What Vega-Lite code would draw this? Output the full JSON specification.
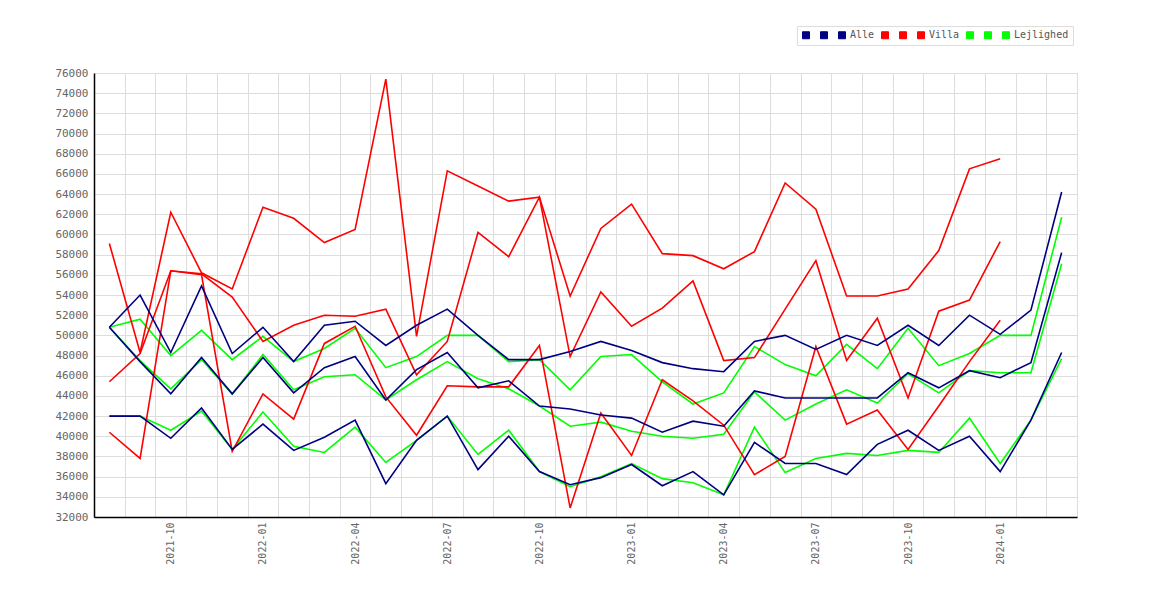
{
  "$schema": "https://vega.github.io/schema/vega-lite/v6.json",
  "width": 983,
  "height": 444,
  "autosize": {"type": "none"},
  "padding": {"left": 94, "top": 73, "right": 93, "bottom": 83},
  "background": "white",
  "config": {
    "view": {"stroke": "#dddddd"},
    "axis": {"labelFont": "DejaVu Sans Mono", "labelFontSize": 10, "labelColor": "#666666"}
  },
  "data": {
    "values": [
      {"m":"2021-08","s":"Lejlighed 1","v":50800},{"m":"2021-09","s":"Lejlighed 1","v":51600},{"m":"2021-10","s":"Lejlighed 1","v":48000},{"m":"2021-11","s":"Lejlighed 1","v":50500},{"m":"2021-12","s":"Lejlighed 1","v":47600},{"m":"2022-01","s":"Lejlighed 1","v":49900},{"m":"2022-02","s":"Lejlighed 1","v":47400},{"m":"2022-03","s":"Lejlighed 1","v":48700},{"m":"2022-04","s":"Lejlighed 1","v":50700},{"m":"2022-05","s":"Lejlighed 1","v":46800},{"m":"2022-06","s":"Lejlighed 1","v":47900},{"m":"2022-07","s":"Lejlighed 1","v":50000},{"m":"2022-08","s":"Lejlighed 1","v":50000},{"m":"2022-09","s":"Lejlighed 1","v":47400},{"m":"2022-10","s":"Lejlighed 1","v":47600},{"m":"2022-11","s":"Lejlighed 1","v":44600},{"m":"2022-12","s":"Lejlighed 1","v":47900},{"m":"2023-01","s":"Lejlighed 1","v":48100},{"m":"2023-02","s":"Lejlighed 1","v":45400},{"m":"2023-03","s":"Lejlighed 1","v":43200},{"m":"2023-04","s":"Lejlighed 1","v":44300},{"m":"2023-05","s":"Lejlighed 1","v":48900},{"m":"2023-06","s":"Lejlighed 1","v":47100},{"m":"2023-07","s":"Lejlighed 1","v":46000},{"m":"2023-08","s":"Lejlighed 1","v":49100},{"m":"2023-09","s":"Lejlighed 1","v":46700},{"m":"2023-10","s":"Lejlighed 1","v":50700},{"m":"2023-11","s":"Lejlighed 1","v":47000},{"m":"2023-12","s":"Lejlighed 1","v":48200},{"m":"2024-01","s":"Lejlighed 1","v":50000},{"m":"2024-02","s":"Lejlighed 1","v":50000},{"m":"2024-03","s":"Lejlighed 1","v":61700},
      {"m":"2021-08","s":"Lejlighed 2","v":50800},{"m":"2021-09","s":"Lejlighed 2","v":47500},{"m":"2021-10","s":"Lejlighed 2","v":44700},{"m":"2021-11","s":"Lejlighed 2","v":47600},{"m":"2021-12","s":"Lejlighed 2","v":44200},{"m":"2022-01","s":"Lejlighed 2","v":48100},{"m":"2022-02","s":"Lejlighed 2","v":44600},{"m":"2022-03","s":"Lejlighed 2","v":45900},{"m":"2022-04","s":"Lejlighed 2","v":46100},{"m":"2022-05","s":"Lejlighed 2","v":43600},{"m":"2022-06","s":"Lejlighed 2","v":45600},{"m":"2022-07","s":"Lejlighed 2","v":47400},{"m":"2022-08","s":"Lejlighed 2","v":45700},{"m":"2022-09","s":"Lejlighed 2","v":44700},{"m":"2022-10","s":"Lejlighed 2","v":43000},{"m":"2022-11","s":"Lejlighed 2","v":41000},{"m":"2022-12","s":"Lejlighed 2","v":41400},{"m":"2023-01","s":"Lejlighed 2","v":40500},{"m":"2023-02","s":"Lejlighed 2","v":40000},{"m":"2023-03","s":"Lejlighed 2","v":39800},{"m":"2023-04","s":"Lejlighed 2","v":40200},{"m":"2023-05","s":"Lejlighed 2","v":44400},{"m":"2023-06","s":"Lejlighed 2","v":41600},{"m":"2023-07","s":"Lejlighed 2","v":43200},{"m":"2023-08","s":"Lejlighed 2","v":44600},{"m":"2023-09","s":"Lejlighed 2","v":43300},{"m":"2023-10","s":"Lejlighed 2","v":46200},{"m":"2023-11","s":"Lejlighed 2","v":44300},{"m":"2023-12","s":"Lejlighed 2","v":46500},{"m":"2024-01","s":"Lejlighed 2","v":46300},{"m":"2024-02","s":"Lejlighed 2","v":46300},{"m":"2024-03","s":"Lejlighed 2","v":57100},
      {"m":"2021-08","s":"Lejlighed","v":42000},{"m":"2021-09","s":"Lejlighed","v":42000},{"m":"2021-10","s":"Lejlighed","v":40600},{"m":"2021-11","s":"Lejlighed","v":42500},{"m":"2021-12","s":"Lejlighed","v":38700},{"m":"2022-01","s":"Lejlighed","v":42400},{"m":"2022-02","s":"Lejlighed","v":39000},{"m":"2022-03","s":"Lejlighed","v":38400},{"m":"2022-04","s":"Lejlighed","v":40900},{"m":"2022-05","s":"Lejlighed","v":37400},{"m":"2022-06","s":"Lejlighed","v":39600},{"m":"2022-07","s":"Lejlighed","v":42000},{"m":"2022-08","s":"Lejlighed","v":38200},{"m":"2022-09","s":"Lejlighed","v":40600},{"m":"2022-10","s":"Lejlighed","v":36500},{"m":"2022-11","s":"Lejlighed","v":35000},{"m":"2022-12","s":"Lejlighed","v":36000},{"m":"2023-01","s":"Lejlighed","v":37300},{"m":"2023-02","s":"Lejlighed","v":35800},{"m":"2023-03","s":"Lejlighed","v":35400},{"m":"2023-04","s":"Lejlighed","v":34200},{"m":"2023-05","s":"Lejlighed","v":40900},{"m":"2023-06","s":"Lejlighed","v":36400},{"m":"2023-07","s":"Lejlighed","v":37800},{"m":"2023-08","s":"Lejlighed","v":38300},{"m":"2023-09","s":"Lejlighed","v":38100},{"m":"2023-10","s":"Lejlighed","v":38600},{"m":"2023-11","s":"Lejlighed","v":38400},{"m":"2023-12","s":"Lejlighed","v":41800},{"m":"2024-01","s":"Lejlighed","v":37300},{"m":"2024-02","s":"Lejlighed","v":41600},{"m":"2024-03","s":"Lejlighed","v":47700},
      {"m":"2021-08","s":"Villa 1","v":59100},{"m":"2021-09","s":"Villa 1","v":48300},{"m":"2021-10","s":"Villa 1","v":62200},{"m":"2021-11","s":"Villa 1","v":56200},{"m":"2021-12","s":"Villa 1","v":54600},{"m":"2022-01","s":"Villa 1","v":62700},{"m":"2022-02","s":"Villa 1","v":61600},{"m":"2022-03","s":"Villa 1","v":59200},{"m":"2022-04","s":"Villa 1","v":60500},{"m":"2022-05","s":"Villa 1","v":75400},{"m":"2022-06","s":"Villa 1","v":49900},{"m":"2022-07","s":"Villa 1","v":66300},{"m":"2022-08","s":"Villa 1","v":64800},{"m":"2022-09","s":"Villa 1","v":63300},{"m":"2022-10","s":"Villa 1","v":63700},{"m":"2022-11","s":"Villa 1","v":53900},{"m":"2022-12","s":"Villa 1","v":60600},{"m":"2023-01","s":"Villa 1","v":63000},{"m":"2023-02","s":"Villa 1","v":58100},{"m":"2023-03","s":"Villa 1","v":57900},{"m":"2023-04","s":"Villa 1","v":56600},{"m":"2023-05","s":"Villa 1","v":58300},{"m":"2023-06","s":"Villa 1","v":65100},{"m":"2023-07","s":"Villa 1","v":62500},{"m":"2023-08","s":"Villa 1","v":53900},{"m":"2023-09","s":"Villa 1","v":53900},{"m":"2023-10","s":"Villa 1","v":54600},{"m":"2023-11","s":"Villa 1","v":58400},{"m":"2023-12","s":"Villa 1","v":66500},{"m":"2024-01","s":"Villa 1","v":67500},
      {"m":"2021-08","s":"Villa 2","v":45400},{"m":"2021-09","s":"Villa 2","v":48200},{"m":"2021-10","s":"Villa 2","v":56400},{"m":"2021-11","s":"Villa 2","v":56100},{"m":"2021-12","s":"Villa 2","v":53800},{"m":"2022-01","s":"Villa 2","v":49400},{"m":"2022-02","s":"Villa 2","v":51000},{"m":"2022-03","s":"Villa 2","v":52000},{"m":"2022-04","s":"Villa 2","v":51900},{"m":"2022-05","s":"Villa 2","v":52600},{"m":"2022-06","s":"Villa 2","v":46100},{"m":"2022-07","s":"Villa 2","v":49400},{"m":"2022-08","s":"Villa 2","v":60200},{"m":"2022-09","s":"Villa 2","v":57800},{"m":"2022-10","s":"Villa 2","v":63700},{"m":"2022-11","s":"Villa 2","v":47900},{"m":"2022-12","s":"Villa 2","v":54300},{"m":"2023-01","s":"Villa 2","v":50900},{"m":"2023-02","s":"Villa 2","v":52700},{"m":"2023-03","s":"Villa 2","v":55400},{"m":"2023-04","s":"Villa 2","v":47500},{"m":"2023-05","s":"Villa 2","v":47800},{"m":"2023-06","s":"Villa 2","v":52600},{"m":"2023-07","s":"Villa 2","v":57400},{"m":"2023-08","s":"Villa 2","v":47500},{"m":"2023-09","s":"Villa 2","v":51700},{"m":"2023-10","s":"Villa 2","v":43800},{"m":"2023-11","s":"Villa 2","v":52400},{"m":"2023-12","s":"Villa 2","v":53500},{"m":"2024-01","s":"Villa 2","v":59300},
      {"m":"2021-08","s":"Villa","v":40400},{"m":"2021-09","s":"Villa","v":37800},{"m":"2021-10","s":"Villa","v":56400},{"m":"2021-11","s":"Villa","v":56000},{"m":"2021-12","s":"Villa","v":38500},{"m":"2022-01","s":"Villa","v":44200},{"m":"2022-02","s":"Villa","v":41700},{"m":"2022-03","s":"Villa","v":49200},{"m":"2022-04","s":"Villa","v":50900},{"m":"2022-05","s":"Villa","v":43900},{"m":"2022-06","s":"Villa","v":40100},{"m":"2022-07","s":"Villa","v":45000},{"m":"2022-08","s":"Villa","v":44900},{"m":"2022-09","s":"Villa","v":44900},{"m":"2022-10","s":"Villa","v":49000},{"m":"2022-11","s":"Villa","v":32900},{"m":"2022-12","s":"Villa","v":42300},{"m":"2023-01","s":"Villa","v":38100},{"m":"2023-02","s":"Villa","v":45600},{"m":"2023-03","s":"Villa","v":43500},{"m":"2023-04","s":"Villa","v":41100},{"m":"2023-05","s":"Villa","v":36200},{"m":"2023-06","s":"Villa","v":38000},{"m":"2023-07","s":"Villa","v":48900},{"m":"2023-08","s":"Villa","v":41200},{"m":"2023-09","s":"Villa","v":42600},{"m":"2023-10","s":"Villa","v":38700},{"m":"2023-11","s":"Villa","v":43000},{"m":"2023-12","s":"Villa","v":47400},{"m":"2024-01","s":"Villa","v":51500},
      {"m":"2021-08","s":"Alle 1","v":50800},{"m":"2021-09","s":"Alle 1","v":54000},{"m":"2021-10","s":"Alle 1","v":48300},{"m":"2021-11","s":"Alle 1","v":54900},{"m":"2021-12","s":"Alle 1","v":48200},{"m":"2022-01","s":"Alle 1","v":50800},{"m":"2022-02","s":"Alle 1","v":47400},{"m":"2022-03","s":"Alle 1","v":51000},{"m":"2022-04","s":"Alle 1","v":51400},{"m":"2022-05","s":"Alle 1","v":49000},{"m":"2022-06","s":"Alle 1","v":51000},{"m":"2022-07","s":"Alle 1","v":52600},{"m":"2022-08","s":"Alle 1","v":50000},{"m":"2022-09","s":"Alle 1","v":47600},{"m":"2022-10","s":"Alle 1","v":47600},{"m":"2022-11","s":"Alle 1","v":48400},{"m":"2022-12","s":"Alle 1","v":49400},{"m":"2023-01","s":"Alle 1","v":48500},{"m":"2023-02","s":"Alle 1","v":47300},{"m":"2023-03","s":"Alle 1","v":46700},{"m":"2023-04","s":"Alle 1","v":46400},{"m":"2023-05","s":"Alle 1","v":49400},{"m":"2023-06","s":"Alle 1","v":50000},{"m":"2023-07","s":"Alle 1","v":48600},{"m":"2023-08","s":"Alle 1","v":50000},{"m":"2023-09","s":"Alle 1","v":49000},{"m":"2023-10","s":"Alle 1","v":51000},{"m":"2023-11","s":"Alle 1","v":49000},{"m":"2023-12","s":"Alle 1","v":52000},{"m":"2024-01","s":"Alle 1","v":50100},{"m":"2024-02","s":"Alle 1","v":52500},{"m":"2024-03","s":"Alle 1","v":64200},
      {"m":"2021-08","s":"Alle 2","v":50800},{"m":"2021-09","s":"Alle 2","v":47400},{"m":"2021-10","s":"Alle 2","v":44200},{"m":"2021-11","s":"Alle 2","v":47800},{"m":"2021-12","s":"Alle 2","v":44200},{"m":"2022-01","s":"Alle 2","v":47800},{"m":"2022-02","s":"Alle 2","v":44300},{"m":"2022-03","s":"Alle 2","v":46800},{"m":"2022-04","s":"Alle 2","v":47900},{"m":"2022-05","s":"Alle 2","v":43600},{"m":"2022-06","s":"Alle 2","v":46600},{"m":"2022-07","s":"Alle 2","v":48300},{"m":"2022-08","s":"Alle 2","v":44800},{"m":"2022-09","s":"Alle 2","v":45500},{"m":"2022-10","s":"Alle 2","v":43000},{"m":"2022-11","s":"Alle 2","v":42700},{"m":"2022-12","s":"Alle 2","v":42100},{"m":"2023-01","s":"Alle 2","v":41800},{"m":"2023-02","s":"Alle 2","v":40400},{"m":"2023-03","s":"Alle 2","v":41500},{"m":"2023-04","s":"Alle 2","v":41000},{"m":"2023-05","s":"Alle 2","v":44500},{"m":"2023-06","s":"Alle 2","v":43800},{"m":"2023-07","s":"Alle 2","v":43800},{"m":"2023-08","s":"Alle 2","v":43800},{"m":"2023-09","s":"Alle 2","v":43800},{"m":"2023-10","s":"Alle 2","v":46300},{"m":"2023-11","s":"Alle 2","v":44800},{"m":"2023-12","s":"Alle 2","v":46500},{"m":"2024-01","s":"Alle 2","v":45800},{"m":"2024-02","s":"Alle 2","v":47300},{"m":"2024-03","s":"Alle 2","v":58200},
      {"m":"2021-08","s":"Alle","v":42000},{"m":"2021-09","s":"Alle","v":42000},{"m":"2021-10","s":"Alle","v":39800},{"m":"2021-11","s":"Alle","v":42800},{"m":"2021-12","s":"Alle","v":38700},{"m":"2022-01","s":"Alle","v":41200},{"m":"2022-02","s":"Alle","v":38600},{"m":"2022-03","s":"Alle","v":39900},{"m":"2022-04","s":"Alle","v":41600},{"m":"2022-05","s":"Alle","v":35300},{"m":"2022-06","s":"Alle","v":39600},{"m":"2022-07","s":"Alle","v":42000},{"m":"2022-08","s":"Alle","v":36700},{"m":"2022-09","s":"Alle","v":40000},{"m":"2022-10","s":"Alle","v":36500},{"m":"2022-11","s":"Alle","v":35200},{"m":"2022-12","s":"Alle","v":35900},{"m":"2023-01","s":"Alle","v":37200},{"m":"2023-02","s":"Alle","v":35100},{"m":"2023-03","s":"Alle","v":36500},{"m":"2023-04","s":"Alle","v":34200},{"m":"2023-05","s":"Alle","v":39400},{"m":"2023-06","s":"Alle","v":37300},{"m":"2023-07","s":"Alle","v":37300},{"m":"2023-08","s":"Alle","v":36200},{"m":"2023-09","s":"Alle","v":39200},{"m":"2023-10","s":"Alle","v":40600},{"m":"2023-11","s":"Alle","v":38600},{"m":"2023-12","s":"Alle","v":40000},{"m":"2024-01","s":"Alle","v":36500},{"m":"2024-02","s":"Alle","v":41600},{"m":"2024-03","s":"Alle","v":48300}
    ]
  },
  "mark": {"type": "line", "strokeWidth": 1.6},
  "encoding": {
    "x": {
      "field": "m",
      "type": "ordinal",
      "bandPosition": 0.5,
      "scale": {"type": "band", "paddingInner": 0, "paddingOuter": 0},
      "axis": {
        "title": null,
        "grid": true,
        "gridColor": "#dddddd",
        "tickBand": "extent",
        "ticks": false,
        "domainColor": "black",
        "domainWidth": 1.5,
        "labelAngle": -90,
        "labelAlign": "right",
        "labelBaseline": "middle",
        "labelPadding": 5,
        "labelExpr": "indexof(['01', '04', '07', '10'], slice(datum.label, 5)) >= 0 ? datum.label : ''"
      }
    },
    "y": {
      "field": "v",
      "type": "quantitative",
      "scale": {"domain": [32000, 76000], "nice": false, "zero": false},
      "axis": {
        "title": null,
        "values": [32000, 34000, 36000, 38000, 40000, 42000, 44000, 46000, 48000, 50000, 52000, 54000, 56000, 58000, 60000, 62000, 64000, 66000, 68000, 70000, 72000, 74000, 76000],
        "format": "d",
        "gridColor": "#dddddd",
        "ticks": false,
        "domainColor": "black",
        "domainWidth": 1.5,
        "labelPadding": 6,
        "labelFontSize": 11
      }
    },
    "color": {
      "field": "s",
      "type": "nominal",
      "scale": {
        "domain": ["Alle 1", "Alle 2", "Alle", "Villa 1", "Villa 2", "Villa", "Lejlighed 1", "Lejlighed 2", "Lejlighed"],
        "range": ["#000080", "#000080", "#000080", "#ff0000", "#ff0000", "#ff0000", "#00ff00", "#00ff00", "#00ff00"]
      },
      "legend": {
        "title": null,
        "orient": "none",
        "legendX": 703,
        "legendY": -47,
        "direction": "horizontal",
        "columns": 9,
        "symbolType": "square",
        "symbolSize": 49,
        "labelFont": "DejaVu Sans Mono",
        "labelFontSize": 10,
        "labelColor": "#555555",
        "labelOffset": 3,
        "columnPadding": 4,
        "padding": 4,
        "strokeColor": "#dddddd",
        "fillColor": "white",
        "labelExpr": "indexof(datum.label, ' ') >= 0 ? ' ' : datum.label",
        "encode": {
          "symbols": {
            "update": {
              "fill": {"scale": "color", "field": "value"},
              "fillOpacity": {"value": 1},
              "stroke": {"value": "#555555"},
              "strokeWidth": {"value": 1}
            }
          }
        }
      }
    }
  }
}
